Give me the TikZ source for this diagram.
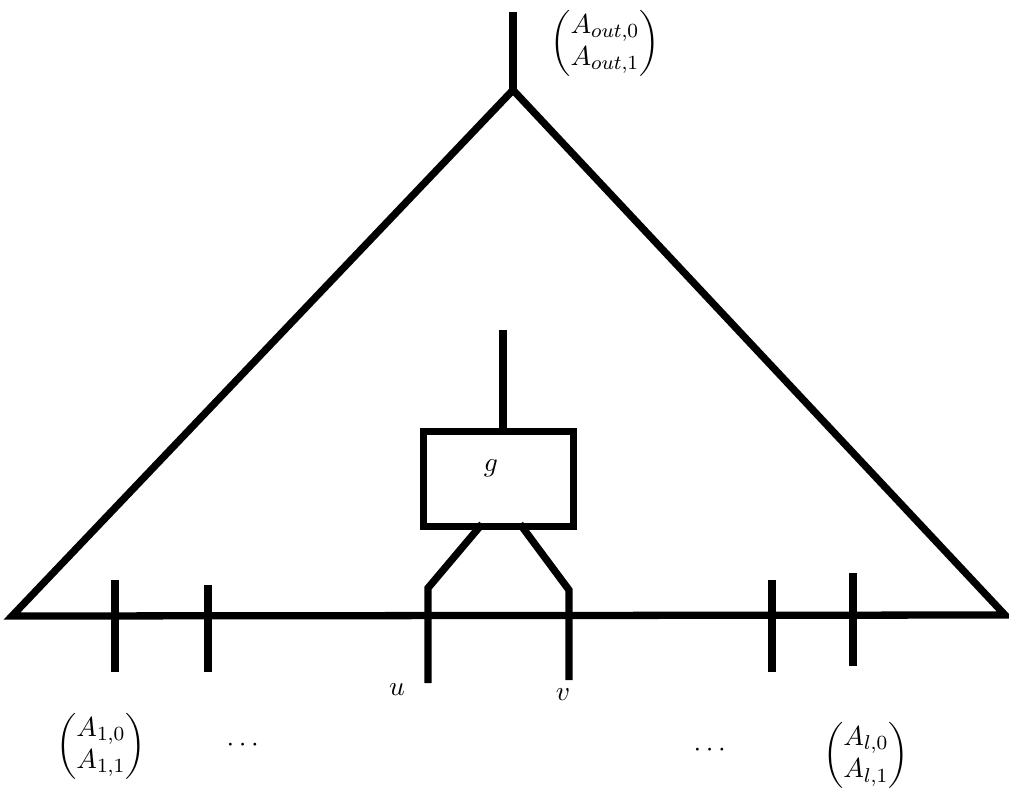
\documentclass[tikz,border=0pt]{standalone}
\usepackage{amsmath}
\begin{document}
\begin{tikzpicture}[x=0.014cm, y=-0.014cm, font=\fontsize{11}{13}\selectfont,
    wire/.style={line width=2.9pt}]
  \useasboundingbox (0,0) rectangle (1009,799);
  % corners of the tree
  \coordinate (top) at (513,12);
  \coordinate (apex) at (513,90);
  \coordinate (bl) at (12,616);
  \coordinate (br) at (1005,615);
  \draw[wire] (top) -- (apex);
  \draw[wire, line join=miter] (bl) -- (apex) -- (br) -- cycle;
  \node[inner sep=1pt] (aout) at (605,43) {$\begin{pmatrix} A_{out,0}\\ A_{out,1}\end{pmatrix}$};
  % the gate
  \node[wire, draw, minimum width=2.11cm, minimum height=1.34cm] (g) at (498.5,479) {};
  \node (glabel) at (491,468) {$g$};
  \coordinate (gout) at (503,330);
  \draw[wire] (gout) -- (gout |- g.north);
  \coordinate (u) at (428,683);
  \coordinate (v) at (569,680);
  \draw[wire] (482,524) -- (428,588) -- (u);
  \draw[wire] (520,524) -- (569,590) -- (v);
  \node (ulabel) at (397,690) {$u$};
  \node (vlabel) at (563,695) {$v$};
  % inputs
  \foreach \x/\a/\b in {115/580/672, 208/585/672, 772/580/672, 853/573/666}
    \draw[wire] (\x,\a) -- (\x,\b);
  \node (a1) at (101,746) {$\begin{pmatrix} A_{1,0}\\ A_{1,1}\end{pmatrix}$};
  \node (dl) at (245,745) {$\cdots$};
  \node (dr) at (712,750) {$\cdots$};
  \node (al) at (866,755) {$\begin{pmatrix} A_{l,0}\\ A_{l,1}\end{pmatrix}$};
\end{tikzpicture}
\end{document}
